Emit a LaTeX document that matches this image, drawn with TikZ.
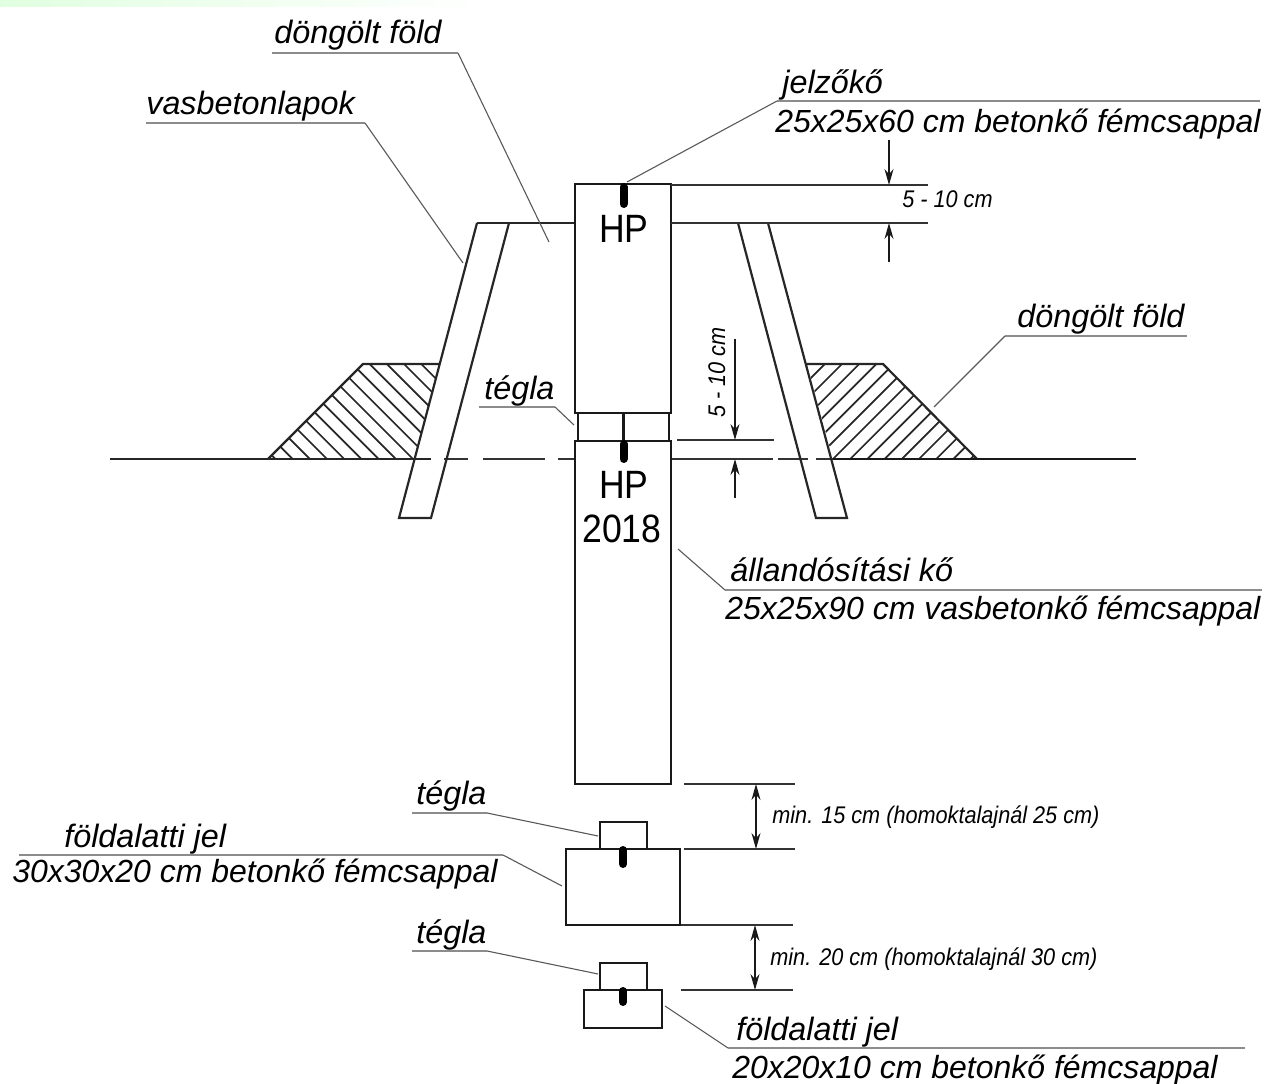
\documentclass[tikz,border=0pt]{standalone}
\usepackage{fontspec}
\setmainfont{Liberation Sans}
\newfontfamily\hpfont[FakeStretch=0.9]{Liberation Sans}
\newfontfamily\dimfont[FakeStretch=0.9]{Liberation Sans}
\usetikzlibrary{arrows.meta}
\tikzset{
  contour/.style={line width=0.054cm,black!90},
  outline/.style={line width=0.044cm,black!85},
  thinline/.style={line width=0.03cm,black!80},
  leader/.style={line width=0.022cm,black!65},
  underline/.style={line width=0.036cm,black!45},
  hatchline/.style={line width=0.034cm,black!85},
  metalpin/.style={line width=0.16cm,line cap=round,black},
  dimarrow/.style={line width=0.022cm,black!90,-{Stealth[length=0.32cm,width=0.18cm]}},
  dimboth/.style={line width=0.022cm,black!90,{Stealth[length=0.32cm,width=0.18cm]}-{Stealth[length=0.32cm,width=0.18cm]}},
  bigtext/.style={anchor=base west,inner sep=0pt,font=\fontsize{18.4}{22}\selectfont\itshape,black},
  sizetext/.style={anchor=base west,inner sep=0pt,font=\fontsize{18.2}{22}\selectfont\itshape,black},
  smalltext/.style={anchor=base west,inner sep=0pt,font=\dimfont\fontsize{13.7}{16}\selectfont\itshape,black},
  stonetext/.style={anchor=base,inner sep=0pt,font=\hpfont\fontsize{22.5}{26}\selectfont,black}
}
\begin{document}
\begin{tikzpicture}[x=0.02cm,y=-0.02cm]
\useasboundingbox (0,0) rectangle (1269,1084);

% Strip along the top edge
\shade [left color=green!12!white,right color=white] (0,0) rectangle (490,7);

% Hatching of the left mound
\begin{scope}
\clip (268,459) -- (363,364) -- (440,364) -- (415,459) -- cycle;
\foreach \i in {-7,...,9}
  \draw [hatchline] ({413-17.2*\i},459) -- ({413-17.2*\i-95},364);
\end{scope}

% Hatching of the right mound
\begin{scope}
\clip (833,459) -- (807,364) -- (883,364) -- (977,459) -- cycle;
\foreach \i in {-7,...,9}
  \draw [hatchline] ({833+17.2*\i},459) -- ({833+17.2*\i+95},364);
\end{scope}

% Mound outlines
\draw [outline] (268,459) -- (363,364) -- (440,364);
\draw [outline] (807,364) -- (883,364) -- (977,459);

% Ground line
\draw [outline] (110,459) -- (431,459);
\draw [thinline] (444,459) -- (468,459);
\draw [thinline] (483,459) -- (545,459);
\draw [thinline] (558,459) -- (575,459);
\draw [thinline] (671,459) -- (773,459);
\draw [thinline] (778,459) -- (808,459);
\draw [thinline] (816,459) -- (833,459);
\draw [contour] (833,459) -- (1136,459);

% Top of the earth and the reinforced slabs
\draw [outline] (477,223) -- (575,223);
\draw [outline] (477,223) -- (399,518) -- (431,518) -- (509,223);
\draw [outline] (738,223) -- (816,518) -- (847,518) -- (768,223);

% Stones and bricks
\draw [contour] (575,184) rectangle (671,413);
\draw [contour] (578,413) rectangle (669,441);
\draw [contour] (623.5,413) -- (623.5,441);
\draw [contour] (575,441) rectangle (671,784);
\draw [contour] (600,822) rectangle (647,849);
\draw [contour] (566,849) rectangle (680,925);
\draw [contour] (600,963) rectangle (647,990);
\draw [contour] (584,990) rectangle (662,1028);

% Metal pins
\draw [metalpin] (623.5,187) -- (623.5,204);
\draw [metalpin] (623.5,444) -- (623.5,459);
\draw [metalpin] (623,850) -- (623,864);
\draw [metalpin] (623,991) -- (623,1002);

% Stone markings
\node (hpupper) [stonetext] at (624,243) {HP};
\node (hplower) [stonetext] at (624,499) {HP};
\node (hpyear) [stonetext] at (622,543) {2018};

% Dimension 5 - 10 cm at the top
\draw [thinline] (671,185) -- (928,185);
\draw [thinline] (671,223) -- (928,223);
\draw [dimarrow] (889,140) -- (889,185);
\draw [dimarrow] (889,262) -- (889,223);
\draw (902,208) node (dimtop) [smalltext] {5 - 10 cm};

% Dimension 5 - 10 cm at the bricks
\draw [thinline] (677,440) -- (774,440);
\draw [dimarrow] (735,339) -- (735,440);
\draw [dimarrow] (735,498) -- (735,459);
\draw (725,418) node (dimbrick) [smalltext,rotate=90] {5 - 10 cm};

% Dimensions under the stone
\draw [thinline] (684,784) -- (795,784);
\draw [thinline] (684,849) -- (795,849);
\draw [thinline] (681,925) -- (793,925);
\draw [thinline] (681,990) -- (793,990);
\draw [dimboth] (756,784) -- (756,849);
\draw [dimboth] (755,925) -- (755,990);
\draw (772,824) node (dimfirst) [smalltext] {min. 15 cm (homoktalajnál 25 cm)};
\draw (770,965) node (dimsecond) [smalltext] {min. 20 cm (homoktalajnál 30 cm)};

% Label top earth
\draw (274,44) node (earthtop) [bigtext] {döngölt föld};
\draw [underline] (272,53) -- (458,53);
\draw [leader] (458,53) -- (549,242);

% Label slabs
\draw (146,115) node (slabs) [bigtext] {vasbetonlapok};
\draw [underline] (146,123) -- (365,123);
\draw [leader] (365,123) -- (463,263);

% Label signal stone
\draw (782,94) node (signal) [bigtext] {jelzőkő};
\draw (775,133) node (signalsize) [sizetext] {25x25x60 cm betonkő fémcsappal};
\draw [underline] (1260,101) -- (777,101);
\draw [leader] (777,101) -- (627,182);

% Label right earth
\draw (1017,328) node (earthright) [bigtext] {döngölt föld};
\draw [underline] (1187,336) -- (1005,336);
\draw [leader] (1005,336) -- (934,407);

% Label upper brick
\draw (484,400) node (brickupper) [bigtext] {tégla};
\draw [underline] (479,407) -- (555,407);
\draw [leader] (555,407) -- (574,425);

% Label fixing stone
\draw (730,582) node (fixing) [bigtext] {állandósítási kő};
\draw (725,620) node (fixingsize) [sizetext] {25x25x90 cm vasbetonkő fémcsappal};
\draw [underline] (1262,590) -- (725,590);
\draw [leader] (725,590) -- (678,549);

% Label middle brick
\draw (416,805) node (brickmiddle) [bigtext] {tégla};
\draw [underline] (412,813) -- (487,813);
\draw [leader] (487,813) -- (598,836);

% Label larger underground mark
\draw (64,847) node (markone) [bigtext] {földalatti jel};
\draw (12,882) node (markonesize) [sizetext] {30x30x20 cm betonkő fémcsappal};
\draw [underline] (19,855) -- (503,855);
\draw [leader] (503,855) -- (562,886);

% Label lower brick
\draw (416,943) node (bricklower) [bigtext] {tégla};
\draw [underline] (412,951) -- (487,951);
\draw [leader] (487,951) -- (598,974);

% Label smaller underground mark
\draw (736,1040) node (marktwo) [bigtext] {földalatti jel};
\draw (732,1078) node (marktwosize) [sizetext] {20x20x10 cm betonkő fémcsappal};
\draw [underline] (1245,1048) -- (728,1048);
\draw [leader] (728,1048) -- (665,1006);
\end{tikzpicture}
\end{document}
